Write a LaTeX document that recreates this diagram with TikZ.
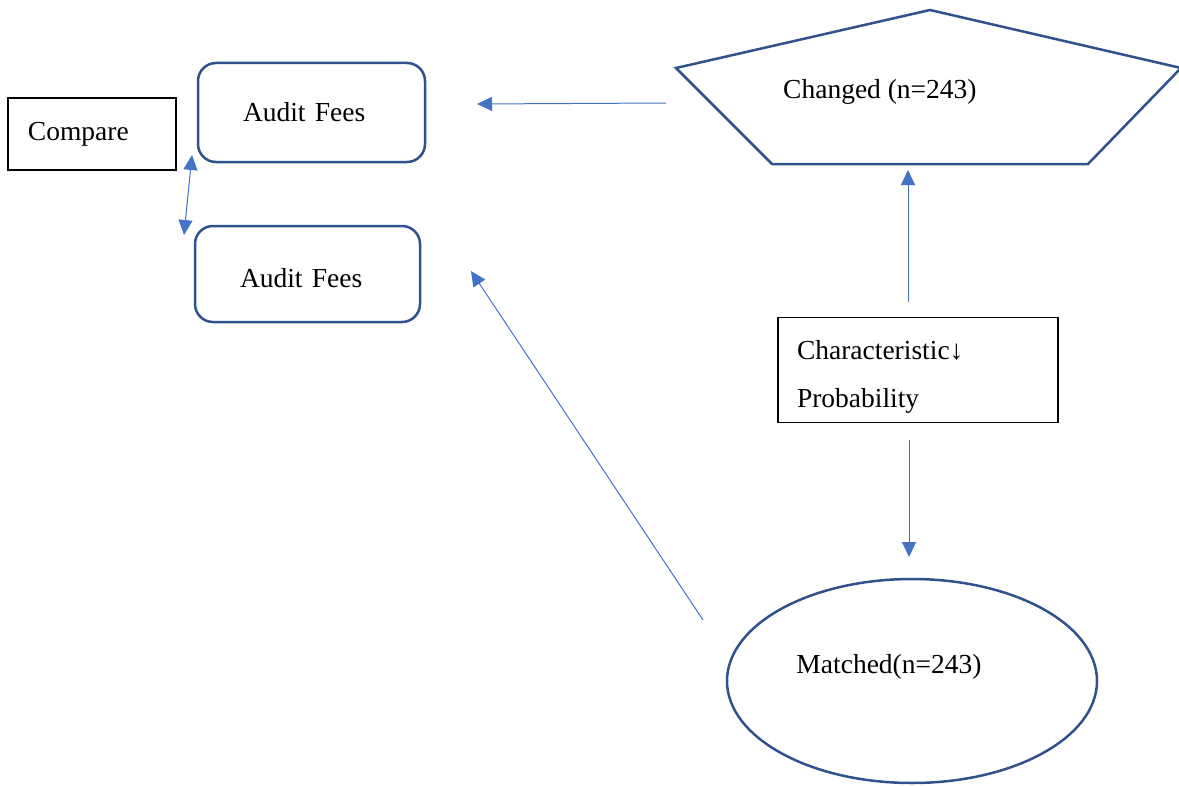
\documentclass[tikz,border=0pt]{standalone}
\usepackage{fontspec}
\setmainfont{Liberation Serif}
\usetikzlibrary{arrows.meta,shapes.geometric}
\definecolor{shapeblue}{HTML}{2F528F}
\definecolor{arrowblue}{HTML}{4472C4}
\tikzset{
  plainbox/.style={draw=black,line width=1.2bp,align=left},
  feebox/.style={draw=shapeblue,line width=2.5bp,rounded corners=18bp,align=left},
  flow/.style={draw=arrowblue,line width=1bp},
}
\begin{document}
\begin{tikzpicture}[x=1bp,y=-1bp,>={Triangle[length=15bp,width=14bp]},
  font=\fontsize{27.6}{33}\selectfont]
  \useasboundingbox (0,0) rectangle (1179,786);
%%
  % Node: Compare
  \node[plainbox,minimum width=168bp,minimum height=72bp,text width=128bp,inner xsep=20bp] (compare) at (92,134) {Compare};
  % Node: Audit_Fees_1
  \node[feebox,minimum width=227bp,minimum height=99bp,text width=137bp,inner xsep=45bp] (fees1) at (311.5,112.5) {Audit Fees};
  % Node: Audit_Fees_2
  \node[feebox,minimum width=225bp,minimum height=96bp,text width=135bp,inner xsep=45bp,
    text height=31bp,text depth=4bp] (fees2) at (307.5,274) {Audit Fees};
  % Node: Changed
  \draw[shapeblue,line width=2.5bp] (676,68) -- (930,10) -- (1181,68) -- (1088,164) -- (772,164) -- cycle;
  \node[anchor=west,inner sep=0pt] (chg) at (783,92) {Changed (n=243)};
  % Node: Characteristic
  \node[plainbox,minimum width=280bp,minimum height=105bp,text width=242bp,inner xsep=19bp,
    font=\fontsize{27.6}{48}\selectfont] (charac) at (918,370) {\rule{0pt}{33bp}Characteristic↓\\Probability};
  % Node: Matched
  \node[ellipse,draw=shapeblue,line width=2.5bp,minimum width=370bp,minimum height=204bp,
    label={[inner sep=0pt,xshift=-23bp,yshift=14bp]center:Matched(n=243)}] (matched) at (912,681) {};
%%
  % Edge: Changed -> Audit_Fees_1
  \coordinate (chgout) at (666,103);
  \coordinate (fees1in) at (477,104);
  \draw[flow,->] (chgout) -- (fees1in);
  % Edge: Characteristic -> Changed
  \coordinate (characup) at (908,302);
  \coordinate (chgin) at (908,170);
  \draw[flow,->] (characup) -- (chgin);
  % Edge: Characteristic -> Matched
  \coordinate (characdown) at (909,440);
  \coordinate (matchedin) at (909,557);
  \draw[flow,->] (characdown) -- (matchedin);
  % Edge: Matched -> Audit_Fees_2
  \coordinate (matchedout) at (703,620);
  \coordinate (fees2in) at (471,271);
  \draw[flow,->] (matchedout) -- (fees2in);
  % Edge: Audit_Fees_1 <-> Audit_Fees_2 (compare)
  \coordinate (fees1low) at (192,155);
  \coordinate (fees2high) at (184,235);
  \draw[flow,<->] (fees1low) -- (fees2high);
%
\end{tikzpicture}
\end{document}
